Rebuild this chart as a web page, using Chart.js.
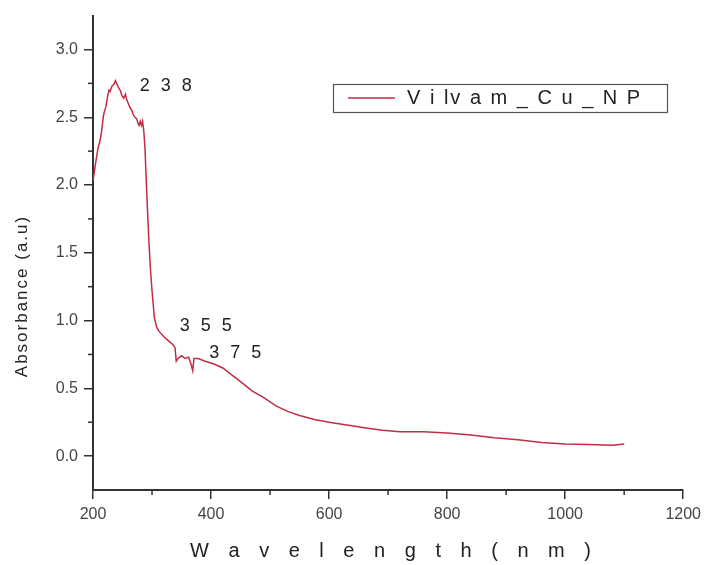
<!DOCTYPE html>
<html>
<head>
<meta charset="utf-8">
<script src="https://cdn.jsdelivr.net/npm/chart.js@4"></script>
<style>
html, body { margin: 0; padding: 0; background: #fff; }
#wrap { width: 707px; height: 565px; position: relative; }
</style>
</head>
<body>
<div id="wrap"><canvas id="uvChart"></canvas></div>
<script>
// UV-Vis spectrum, values
const wavelength = [
    200, 204, 208, 212, 214, 218, 222, 225, 227, 229, 232, 235, 238, 240, 243, 246, 249, 252, 255, 257,
    260, 263, 266, 268, 271, 274, 276, 278, 280, 282, 284, 286, 288, 291, 294, 297, 300, 304, 308, 312,
    320, 328, 336, 339, 341, 344, 350, 356, 362, 366, 369, 371, 378, 390, 405, 420, 435, 450, 470, 490,
    510, 530, 550, 575, 600, 630, 660, 690, 720, 760, 800, 840, 880, 920, 960, 1000, 1040, 1080, 1100
];
const absorbance = [
    2.03, 2.15, 2.26, 2.33, 2.38, 2.52, 2.58, 2.66, 2.70, 2.69, 2.73, 2.74, 2.77, 2.75, 2.72, 2.70, 2.66, 2.64, 2.67, 2.63,
    2.60, 2.57, 2.55, 2.52, 2.50, 2.49, 2.46, 2.44, 2.47, 2.44, 2.47, 2.40, 2.28, 1.95, 1.65, 1.40, 1.22, 1.02, 0.95, 0.92,
    0.88, 0.85, 0.82, 0.80, 0.70, 0.72, 0.74, 0.72, 0.73, 0.68, 0.63, 0.72, 0.72, 0.70, 0.68, 0.65, 0.60, 0.55, 0.48, 0.43,
    0.37, 0.33, 0.30, 0.27, 0.25, 0.23, 0.21, 0.19, 0.18, 0.18, 0.17, 0.155, 0.135, 0.12, 0.10, 0.09, 0.085, 0.08, 0.09
];
const xMajorTicks = [200, 400, 600, 800, 1000, 1200];
const xMinorTicks = [300, 500, 700, 900, 1100];
const yMajorTicks = [0, 0.5, 1.0, 1.5, 2.0, 2.5, 3.0];
const yMinorTicks = [0.25, 0.75, 1.25, 1.75, 2.25, 2.75];
const seriesLabel = 'V i lv a m _ C u _ N P';
const peakLabels = ['2 3 8', '3 5 5', '3 7 5'];

const lineColor = '#c42c44';
const axisColor = '#333';
const labelColor = '#444';
const fontFamily = '"Liberation Sans", Arial, sans-serif';

const extrasPlugin = {
    id: 'extras',
    afterDraw(chart) {
        const ctx = chart.ctx;
        const x = chart.scales.x;
        const y = chart.scales.y;
        const area = chart.chartArea;

        ctx.save();
        // minor ticks
        ctx.strokeStyle = axisColor;
        ctx.lineWidth = 1.5;
        xMinorTicks.forEach(v => {
            const px = x.getPixelForValue(v);
            ctx.beginPath();
            ctx.moveTo(px, area.bottom);
            ctx.lineTo(px, area.bottom + 5);
            ctx.stroke();
        });
        yMinorTicks.forEach(v => {
            const py = y.getPixelForValue(v);
            ctx.beginPath();
            ctx.moveTo(area.left - 5, py);
            ctx.lineTo(area.left, py);
            ctx.stroke();
        });

        // axis titles
        ctx.fillStyle = '#222';
        ctx.textAlign = 'center';
        ctx.textBaseline = 'middle';
        ctx.font = '20px ' + fontFamily;
        ctx.letterSpacing = '7px';
        ctx.fillText('W a v e l e n g t h ( n m )', 394, 551);

        ctx.letterSpacing = '2px';
        ctx.font = '17px ' + fontFamily;
        ctx.save();
        ctx.translate(22, 296);
        ctx.rotate(-Math.PI / 2);
        ctx.fillText('Absorbance (a.u)', 0, 0);
        ctx.restore();

        // peak labels
        ctx.textAlign = 'left';
        ctx.font = '18px ' + fontFamily;
        ctx.letterSpacing = '3px';
        ctx.fillStyle = '#222';
        const anchors = [[279, 2.73], [347, 0.96], [397, 0.76]];
        peakLabels.forEach((t, i) => {
            ctx.fillText(t, x.getPixelForValue(anchors[i][0]), y.getPixelForValue(anchors[i][1]));
        });

        // legend box
        ctx.letterSpacing = '2px';
        ctx.strokeStyle = '#555';
        ctx.lineWidth = 1.2;
        ctx.strokeRect(333.5, 84.5, 334, 28);
        ctx.strokeStyle = lineColor;
        ctx.lineWidth = 1.5;
        ctx.beginPath();
        ctx.moveTo(348, 98);
        ctx.lineTo(395, 98);
        ctx.stroke();
        ctx.fillStyle = '#222';
        ctx.font = '20px ' + fontFamily;
        ctx.fillText(chart.data.datasets[0].label, 407, 98);
        ctx.restore();
    }
};

new Chart(document.getElementById('uvChart'), {
    type: 'line',
    data: {
        datasets: [{
            label: seriesLabel,
            data: wavelength.map((w, i) => ({ x: w, y: absorbance[i] })),
            borderColor: lineColor,
            borderWidth: 1.5,
            pointRadius: 0,
            tension: 0,
            fill: false
        }]
    },
    options: {
        responsive: true,
        maintainAspectRatio: false,
        animation: false,
        layout: { padding: { top: 14, right: 22, left: 0, bottom: 0 } },
        plugins: {
            legend: { display: false },
            tooltip: { enabled: false }
        },
        scales: {
            x: {
                type: 'linear',
                min: 200,
                max: 1200,
                afterBuildTicks: s => { s.ticks = xMajorTicks.map(v => ({ value: v })); },
                afterFit: s => { s.height = 75; },
                grid: { drawOnChartArea: false, color: axisColor, tickLength: 9, lineWidth: 1.5 },
                border: { color: axisColor, width: 2 },
                ticks: {
                    color: labelColor,
                    padding: 6,
                    maxRotation: 0,
                    autoSkip: false,
                    font: { size: 16, family: fontFamily },
                    callback: v => String(v)
                }
            },
            y: {
                min: -0.25,
                max: 3.25,
                afterBuildTicks: s => { s.ticks = yMajorTicks.map(v => ({ value: v })); },
                afterFit: s => { s.width = 93; },
                grid: { drawOnChartArea: false, color: axisColor, tickLength: 9, lineWidth: 1.5 },
                border: { color: axisColor, width: 2 },
                ticks: {
                    color: labelColor,
                    padding: 6,
                    autoSkip: false,
                    font: { size: 16, family: fontFamily },
                    callback: v => v.toFixed(1)
                }
            }
        }
    },
    plugins: [extrasPlugin]
});
</script>
</body>
</html>
